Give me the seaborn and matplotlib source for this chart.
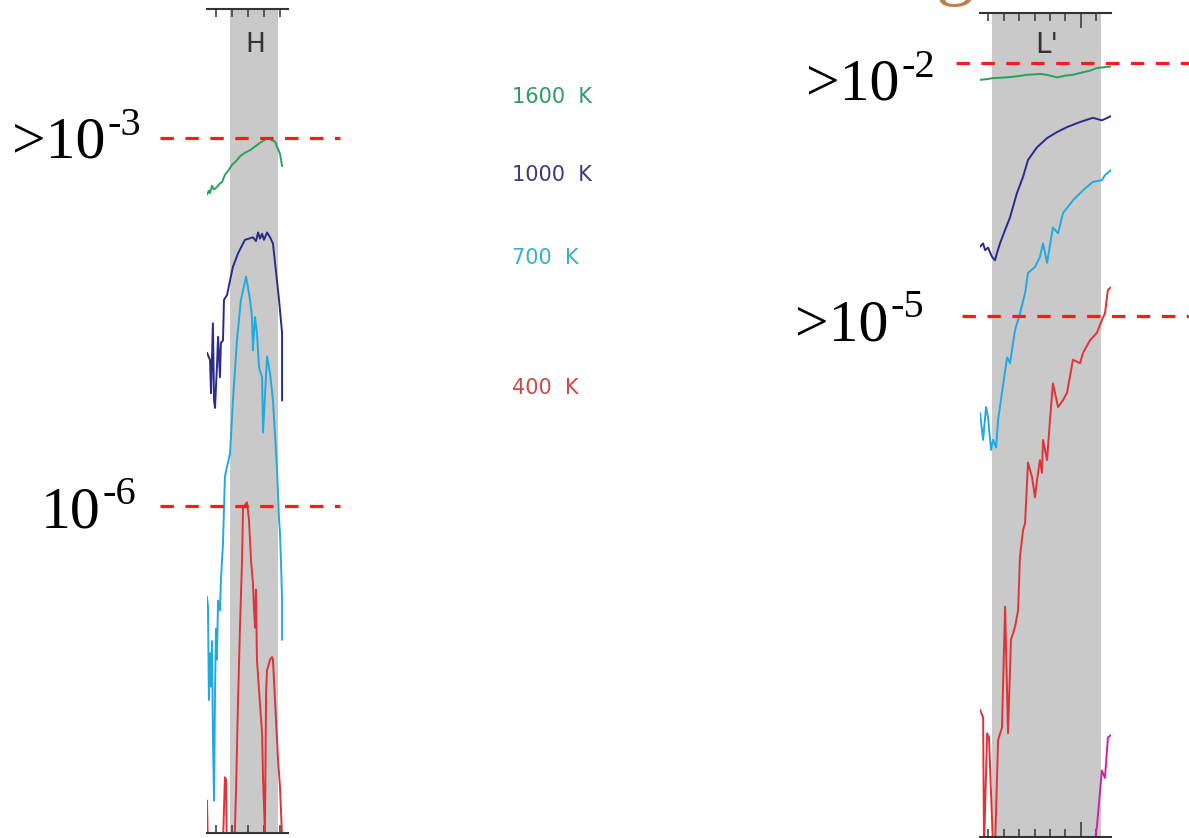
import matplotlib
matplotlib.use("Agg")
import matplotlib.pyplot as plt
import seaborn as sns

# ---- H band panel: wavelength (micron) vs log10 contrast ----
h_1600_x = [1.344, 1.356, 1.363, 1.375, 1.388, 1.406, 1.425, 1.438, 1.456, 1.475, 1.5, 1.525,
            1.55, 1.581, 1.613, 1.644, 1.675, 1.70, 1.719, 1.738, 1.75, 1.769, 1.781, 1.80, 1.813]
h_1600_y = [-3.46, -3.43, -3.45, -3.39, -3.42, -3.40, -3.37, -3.36, -3.30, -3.27, -3.22, -3.19,
            -3.15, -3.12, -3.10, -3.07, -3.04, -3.02, -3.00, -3.01, -3.02, -3.03, -3.07, -3.13, -3.23]

h_1000_x = [1.344, 1.363, 1.369, 1.381, 1.388, 1.394, 1.406, 1.413, 1.425, 1.431, 1.444, 1.45,
            1.469, 1.488, 1.506, 1.538, 1.581, 1.631, 1.65, 1.663, 1.675, 1.688, 1.70, 1.719,
            1.738, 1.756, 1.781, 1.794, 1.813, 1.813]
h_1000_y = [-4.75, -4.81, -5.08, -4.51, -5.14, -5.20, -4.87, -4.62, -4.95, -4.67, -4.65, -4.32,
            -4.28, -4.16, -4.05, -3.94, -3.83, -3.81, -3.84, -3.77, -3.82, -3.78, -3.83, -3.77,
            -3.81, -3.86, -4.16, -4.32, -4.59, -5.14]

h_700_x = [1.344, 1.35, 1.356, 1.363, 1.369, 1.375, 1.381, 1.388, 1.394, 1.40, 1.406, 1.413,
           1.425, 1.431, 1.438, 1.444, 1.456, 1.469, 1.488, 1.506, 1.531, 1.556, 1.588, 1.613,
           1.625, 1.631, 1.644, 1.656, 1.669, 1.688, 1.694, 1.719, 1.738, 1.756, 1.781, 1.794,
           1.80, 1.806, 1.813, 1.813]
h_700_y = [-6.74, -6.82, -7.58, -7.20, -7.47, -7.10, -7.88, -8.40, -7.52, -7.00, -7.25, -6.77,
           -6.85, -6.60, -6.44, -6.30, -5.76, -5.68, -5.57, -5.14, -4.65, -4.32, -4.13, -4.32,
           -4.46, -4.73, -4.46, -4.59, -4.87, -4.95, -5.40, -4.78, -4.92, -5.14, -5.68, -6.11,
           -6.22, -6.44, -6.77, -7.09]

h_400_x = [1.344, 1.353, 1.438, 1.456, 1.463, 1.469, 1.51, 1.525, 1.538, 1.55, 1.563, 1.569,
           1.594, 1.606, 1.619, 1.631, 1.638, 1.644, 1.65, 1.656, 1.669, 1.688, 1.694, 1.706,
           1.713, 1.719, 1.738, 1.75, 1.756, 1.775, 1.788, 1.80, 1.813]
h_400_y = [-8.40, -9.00, -9.00, -8.21, -8.23, -9.00, -9.00, -8.34, -7.58, -6.99, -6.44, -6.01,
           -5.97, -6.11, -6.44, -6.63, -6.85, -6.99, -6.68, -7.25, -7.50, -7.85, -8.21, -8.66,
           -7.52, -7.34, -7.25, -7.23, -7.25, -7.74, -8.07, -8.29, -8.70]

# ---- L' band panel ----
l_1600_x = [3.348, 3.40, 3.426, 3.48, 3.523, 3.58, 3.652, 3.70, 3.735, 3.78, 3.845, 3.90,
            3.948, 4.013, 4.06, 4.103, 4.15, 4.194]
l_1600_y = [-2.20, -2.19, -2.18, -2.175, -2.17, -2.16, -2.14, -2.135, -2.13, -2.14, -2.17, -2.15,
            -2.14, -2.11, -2.09, -2.06, -2.05, -2.04]

l_1000_x = [3.348, 3.368, 3.381, 3.40, 3.426, 3.445, 3.458, 3.477, 3.51, 3.542, 3.587, 3.626,
            3.658, 3.716, 3.781, 3.845, 3.91, 3.994, 4.077, 4.135, 4.194]
l_1000_y = [-4.18, -4.14, -4.22, -4.19, -4.30, -4.34, -4.25, -4.14, -3.98, -3.83, -3.54, -3.35,
            -3.15, -3.00, -2.89, -2.82, -2.76, -2.70, -2.65, -2.68, -2.63]

l_700_x = [3.348, 3.368, 3.387, 3.40, 3.419, 3.432, 3.452, 3.465, 3.49, 3.523, 3.542, 3.574,
           3.606, 3.639, 3.658, 3.703, 3.735, 3.755, 3.781, 3.819, 3.852, 3.884, 3.948, 4.013,
           4.077, 4.135, 4.155, 4.194]
l_700_y = [-6.15, -6.47, -6.08, -6.20, -6.59, -6.47, -6.56, -6.23, -5.91, -5.49, -5.56, -5.17,
           -4.97, -4.73, -4.49, -4.42, -4.30, -4.14, -4.37, -3.95, -4.02, -3.78, -3.63, -3.51,
           -3.41, -3.39, -3.33, -3.27]

l_400_x = [3.348, 3.368, 3.374, 3.394, 3.406, 3.432, 3.445, 3.465, 3.49, 3.51, 3.529, 3.548,
           3.574, 3.594, 3.606, 3.626, 3.639, 3.658, 3.684, 3.703, 3.716, 3.735, 3.748, 3.755,
           3.781, 3.80, 3.819, 3.852, 3.884, 3.91, 3.929, 3.948, 3.994, 4.013, 4.058, 4.103,
           4.135, 4.155, 4.174, 4.194]
l_400_y = [-9.67, -9.76, -11.3, -9.95, -10.00, -11.3, -11.3, -10.03, -9.88, -8.45, -9.95, -8.84,
           -8.69, -8.49, -7.86, -7.54, -7.46, -6.74, -6.91, -7.15, -6.95, -6.71, -6.86, -6.47,
           -6.71, -6.23, -5.80, -6.08, -6.00, -5.91, -5.72, -5.52, -5.56, -5.44, -5.29, -5.20,
           -5.05, -4.97, -4.69, -4.66]

l_200_x = [4.077, 4.084, 4.103, 4.135, 4.155, 4.174, 4.194]
l_200_y = [-11.4, -11.3, -11.06, -10.39, -10.48, -10.00, -9.97]

# contrast levels marked with dashed lines and their labels
h_levels = [-3, -6]
h_level_labels = [(">10", "-3"), ("10", "-6")]
l_levels = [-2, -5]
l_level_labels = [(">10", "-2"), (">10", "-5")]

temps = ["1600 K", "1000 K", "700 K", "400 K"]
line_colors = ["#27a25e", "#2b2b8c", "#22a9e0", "#e03238"]
text_colors = ["#2e9a66", "#3b3b7e", "#3aafcb", "#cc4b4b"]
magenta = "#cf22a8"

W, H = 1189, 838
sns.set_style("white")
plt.rcParams["font.family"] = ["DejaVu Sans"]

fig = plt.figure(figsize=(W / 100, H / 100), dpi=100)
fig.patch.set_facecolor("white")

ax_h = fig.add_axes([207 / W, 5 / H, 81 / W, 824 / H])
ax_l = fig.add_axes([980 / W, 1 / H, 131 / W, 824 / H])

band_gray = "#c9c9c9"
spine_col = "#333333"


def setup_panel(ax, xlim, ylim, band, minor, major):
    ax.set_xlim(*xlim)
    ax.set_ylim(*ylim)
    ax.set_facecolor("white")
    ax.axvspan(band[0], band[1], color=band_gray, lw=0, zorder=0)
    for s in ("left", "right"):
        ax.spines[s].set_visible(False)
    for s in ("top", "bottom"):
        ax.spines[s].set_color(spine_col)
        ax.spines[s].set_linewidth(1.5)
    ax.set_xticks(major)
    ax.set_xticks(minor, minor=True)
    ax.tick_params(axis="x", which="major", direction="in", top=True, bottom=True,
                   length=10.5, width=1.1, color=spine_col, labelbottom=False)
    ax.tick_params(axis="x", which="minor", direction="in", top=True, bottom=True,
                   length=5.5, width=1.1, color=spine_col)
    ax.set_yticks([])
    ax.set_xlabel("")
    ax.set_ylabel("")


setup_panel(ax_h, (1.344, 1.85), (-8.664, -1.949), (1.49, 1.785),
            [1.4, 1.5, 1.6, 1.7, 1.8], [])
setup_panel(ax_l, (3.348, 4.194), (-11.18, -1.407), (3.426, 4.129),
            [3.4, 3.5, 3.6, 3.7, 3.8, 3.9, 4.1], [4.0])

h_series = [(h_1600_x, h_1600_y), (h_1000_x, h_1000_y), (h_700_x, h_700_y), (h_400_x, h_400_y)]
l_series = [(l_1600_x, l_1600_y), (l_1000_x, l_1000_y), (l_700_x, l_700_y), (l_400_x, l_400_y)]

for (xs, ys), c in zip(h_series, line_colors):
    sns.lineplot(x=xs, y=ys, ax=ax_h, color=c, lw=1.4, sort=False, estimator=None, zorder=2)
for (xs, ys), c in zip(l_series, line_colors):
    sns.lineplot(x=xs, y=ys, ax=ax_l, color=c, lw=1.4, sort=False, estimator=None, zorder=2)
sns.lineplot(x=l_200_x, y=l_200_y, ax=ax_l, color=magenta, lw=1.4, sort=False,
             estimator=None, zorder=2)

# band names
ax_h.text(1.644, 0.956, "H", transform=ax_h.get_xaxis_transform(), ha="center",
          va="center", fontsize=19, color="#333333")
ax_l.text(3.781, 0.961, "L'", transform=ax_l.get_xaxis_transform(), ha="center",
          va="center", fontsize=20, color="#333333")

# dashed contrast levels, running out of the panels
dash_kw = dict(color="#ff1a1a", lw=2.3, dashes=(4.2, 3.6), clip_on=False, zorder=5)
for lv in h_levels:
    ax_h.plot([1.05, 2.175], [lv, lv], **dash_kw)
for lv, x0 in zip(l_levels, [3.194, 3.232]):
    ax_l.plot([x0, 4.75], [lv, lv], **dash_kw)

# contrast labels with raised exponents
renderer = fig.canvas.get_renderer()
serif = "Liberation Serif"


def power_label(px, base_y, base, exp, rise):
    t = fig.text(px / W, 1 - base_y / H, base, fontsize=43, family=serif,
                 ha="left", va="baseline", color="black")
    bb = t.get_window_extent(renderer)
    fig.text((bb.x1 + 2) / W, 1 - (base_y - rise) / H, exp, fontsize=29, family=serif,
             ha="left", va="baseline", color="black")


label_pos = [(12, 158), (41, 527), (806, 100), (795, 340)]
for (base, exp), (px, py) in zip(h_level_labels + l_level_labels, label_pos):
    power_label(px, py, base, exp, 23)

# temperature key
for name, c, py in zip(temps, text_colors, [97, 175, 258, 388]):
    fig.text(512 / W, 1 - py / H, name.replace(" ", "  "), fontsize=15, color=c,
             ha="left", va="center")

# clipped piece of the slide title
fig.text(936 / W, 1 + 10 / H, "g", fontsize=56, family=serif, color="#b8844e",
         ha="left", va="baseline")

fig.savefig("out.png", dpi=100, facecolor="white")
